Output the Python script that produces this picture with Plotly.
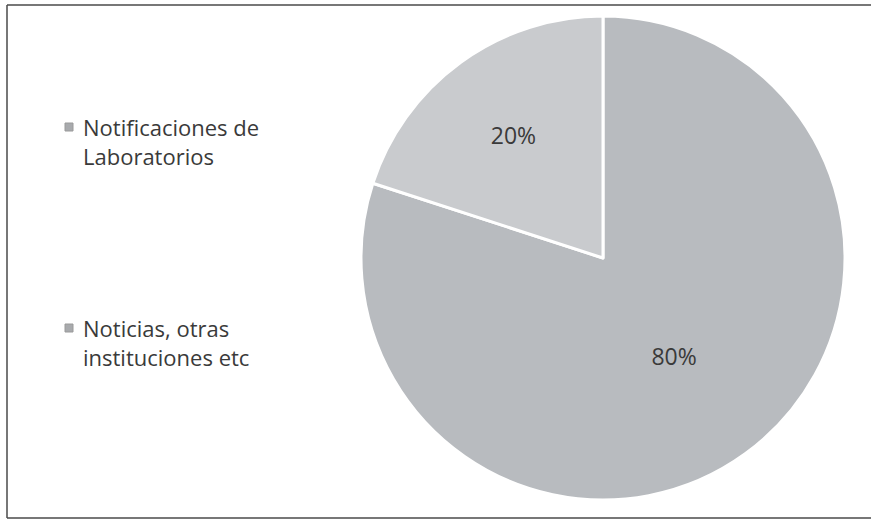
import plotly.graph_objects as go

categories = ["Notificaciones de Laboratorios", "Noticias, otras instituciones etc"]
legend_labels = ["Notificaciones de<br>Laboratorios", "Noticias, otras<br>instituciones etc"]
values = [20, 80]
colors = ["#c9cbce", "#b8bbbf"]

W, H = 871, 522
cx, cy, r = 603, 258, 242

fig = go.Figure()
# Slices drawn clockwise from 12 o'clock in reverse order so the 20% slice
# sits to the left of the top, as in the reference.
fig.add_trace(go.Pie(
    labels=categories[::-1],
    values=values[::-1],
    sort=False,
    direction="clockwise",
    rotation=0,
    marker=dict(colors=colors[::-1], line=dict(color="white", width=3)),
    textinfo="percent",
    texttemplate="%{percent:.0%}",
    textposition="inside",
    insidetextorientation="horizontal",
    textfont=dict(family="Open Sans", size=23, color="#3a3a3a"),
    domain=dict(x=[(cx - r) / W, (cx + r) / W], y=[(H - cy - r) / H, (H - cy + r) / H]),
    showlegend=False,
))

# Legend drawn as text annotations with small square markers
legend_mid_y = [141, 342]
for lab, col, yy in zip(legend_labels, colors, legend_mid_y):
    fig.add_annotation(
        x=81 / W, y=1 - yy / H, xref="paper", yref="paper",
        xanchor="left", yanchor="middle", align="left",
        text=lab, showarrow=False,
        font=dict(family="Open Sans", size=22, color="#3a3a3a"),
    )
    top = yy - 18
    fig.add_shape(type="rect", xref="paper", yref="paper",
                  x0=65 / W, x1=73 / W, y0=1 - (top + 8) / H, y1=1 - top / H,
                  fillcolor="#a8aaad", line=dict(color="#9a9a9a", width=1))

# Chart border (top, left, bottom)
for x0, y0, x1, y1 in [(7, 5, W, 5), (7, 5, 7, 518), (7, 518, W, 518)]:
    fig.add_shape(type="line", xref="paper", yref="paper",
                  x0=x0 / W, y0=1 - y0 / H, x1=x1 / W, y1=1 - y1 / H,
                  line=dict(color="#4a4a4a", width=1.5))

fig.update_layout(
    width=W, height=H,
    margin=dict(l=0, r=0, t=0, b=0),
    paper_bgcolor="white",
    plot_bgcolor="white",
)

fig.write_html(
    "out.html",
    config={"displayModeBar": False},
    post_script="document.body.style.margin='0';document.body.style.overflow='hidden';",
)
